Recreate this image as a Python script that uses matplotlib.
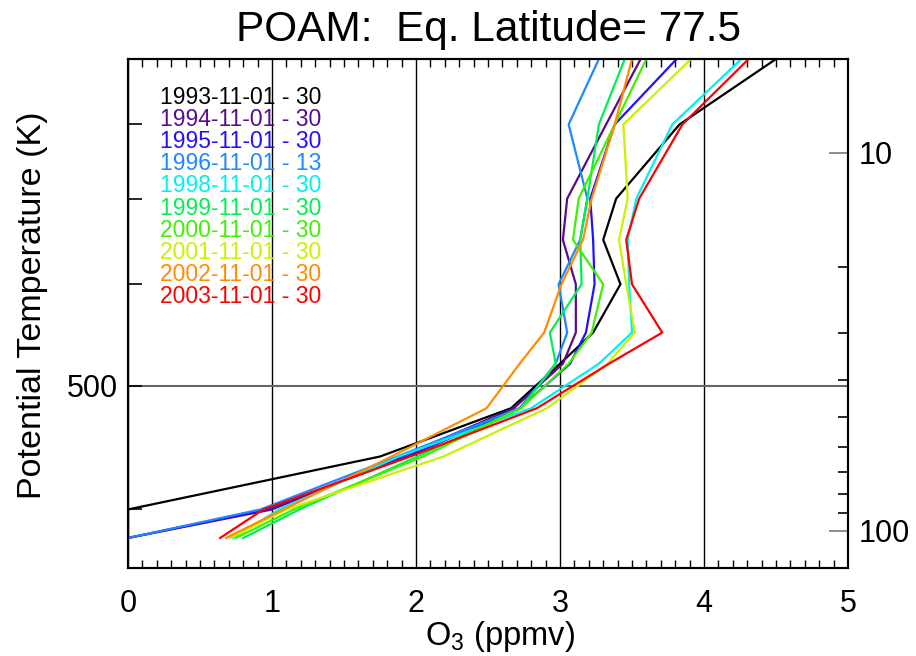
import matplotlib
matplotlib.use('Agg')
import matplotlib.pyplot as plt
from matplotlib.ticker import FixedLocator, NullFormatter, FixedFormatter, MultipleLocator

plt.rcParams['font.family'] = ['Liberation Sans', 'DejaVu Sans']

# Potential temperature levels (K)
theta_levels = [380, 400, 440, 480, 520, 550, 600, 650, 700, 800, 900]

# O3 mixing ratio (ppmv) per year at each theta level
o3_1993 = [0.00, 0.00, 1.75, 2.66, 3.00, 3.23, 3.42, 3.30, 3.39, 3.83, 4.50]
o3_1994 = [0.00, 1.00, 1.90, 2.68, 3.02, 3.11, 3.11, 3.02, 3.05, 3.32, 3.56]
o3_1995 = [0.00, 0.96, 1.94, 2.72, 3.07, 3.18, 3.24, 3.23, 3.21, 3.38, 3.81]
o3_1996 = [0.00, 0.92, 1.87, 2.72, 2.97, 3.05, 2.99, 3.14, 3.19, 3.06, 3.27]
o3_1998 = [0.73, 1.05, 1.88, 2.80, 3.27, 3.50, 3.48, 3.47, 3.53, 3.78, 4.26]
o3_1999 = [0.80, 1.19, 2.01, 2.73, 2.97, 2.93, 3.15, 3.14, 3.19, 3.27, 3.45]
o3_2000 = [0.75, 1.15, 2.05, 2.73, 3.06, 3.22, 3.30, 3.09, 3.13, 3.38, 3.60]
o3_2001 = [0.71, 1.10, 2.19, 2.91, 3.33, 3.52, 3.46, 3.41, 3.47, 3.44, 3.91]
o3_2002 = [0.68, 1.08, 1.83, 2.49, 2.72, 2.89, 3.01, 3.16, 3.22, 3.38, 3.50]
o3_2003 = [0.64, 0.94, 1.96, 2.84, 3.34, 3.71, 3.50, 3.46, 3.55, 3.85, 4.31]

series_values = [o3_1993, o3_1994, o3_1995, o3_1996, o3_1998,
                 o3_1999, o3_2000, o3_2001, o3_2002, o3_2003]
series_labels = ['1993-11-01 - 30', '1994-11-01 - 30', '1995-11-01 - 30',
                 '1996-11-01 - 13', '1998-11-01 - 30', '1999-11-01 - 30',
                 '2000-11-01 - 30', '2001-11-01 - 30', '2002-11-01 - 30',
                 '2003-11-01 - 30']
series_colors = ['#000000', '#5a0a8c', '#2010ff', '#1e88ff', '#00f0f0',
                 '#00f050', '#40f000', '#ccf000', '#ff8c00', '#ff0000']

x_ticks = [0, 1, 2, 3, 4, 5]
theta_major = [500]
theta_minor = [400, 600, 700, 800]
p_major = [10, 100]
p_minor = [20, 30, 40, 50, 60, 70, 80, 90]

W, H = 916, 656
fig = plt.figure(figsize=(W / 100, H / 100), dpi=100)
ax = fig.add_axes([128 / W, (H - 568) / H, 720 / W, 509 / H])

for vals, col in zip(series_values, series_colors):
    ax.plot(vals, theta_levels, color=col, lw=1.6, zorder=3, clip_on=True)

ax.set_yscale('log')
ax.set_ylim(360, 900)
ax.set_xlim(0, 5)

ax.xaxis.set_major_locator(FixedLocator(x_ticks))
ax.xaxis.set_major_formatter(FixedFormatter([str(t) for t in x_ticks]))
ax.xaxis.set_minor_locator(MultipleLocator(0.1))
ax.tick_params(axis='x', which='major', direction='in', length=0, pad=15,
               labelsize=22, top=True)
ax.tick_params(axis='x', which='minor', direction='in', length=6, width=1,
               top=True, bottom=True)
ax.grid(axis='x', which='major', color='black', lw=1, zorder=1)

ax.yaxis.set_major_locator(FixedLocator(theta_major))
ax.yaxis.set_major_formatter(FixedFormatter([str(t) for t in theta_major]))
ax.yaxis.set_minor_locator(FixedLocator(theta_minor))
ax.yaxis.set_minor_formatter(NullFormatter())
ax.tick_params(axis='y', which='both', direction='in', length=10, width=1.2,
               labelsize=22, pad=7, right=False)
ax.grid(axis='y', which='major', color='#666666', lw=1.5, zorder=1)

for s in ax.spines.values():
    s.set_linewidth(1.5)

ax2 = ax.twinx()
ax2.set_yscale('log')
ax2.set_ylim(125.5, 5.64)
ax2.yaxis.set_major_locator(FixedLocator(p_major))
ax2.yaxis.set_major_formatter(FixedFormatter([str(p) for p in p_major]))
ax2.yaxis.set_minor_locator(FixedLocator(p_minor))
ax2.yaxis.set_minor_formatter(NullFormatter())
ax2.tick_params(axis='y', which='major', direction='in', length=14, width=1.2,
                color='#777777', labelsize=22, pad=8)
ax2.tick_params(axis='y', which='minor', direction='in', length=7, width=1.2)
for s in ax2.spines.values():
    s.set_linewidth(1.5)

# legend-like text list
for i, (lab, col) in enumerate(zip(series_labels, series_colors)):
    ax.text(0.045, 0.925 - i * 0.0436, lab, color=col, fontsize=16.5,
            ha='left', va='center', transform=ax.transAxes, zorder=4)

fig.text(489 / W, 1 - 30 / H, 'POAM:  Eq. Latitude= 77.5', ha='center',
         va='center', fontsize=30.5)
fig.text(500 / W, 1 - 636 / H, r'O$_\mathregular{3}$ (ppmv)', ha='center',
         va='center', fontsize=23.5)
fig.text(33 / W, 1 - 305 / H, 'Potential Temperature (K)', ha='center',
         va='center', fontsize=24.5, rotation=90)

fig.savefig('out.png', dpi=100)
